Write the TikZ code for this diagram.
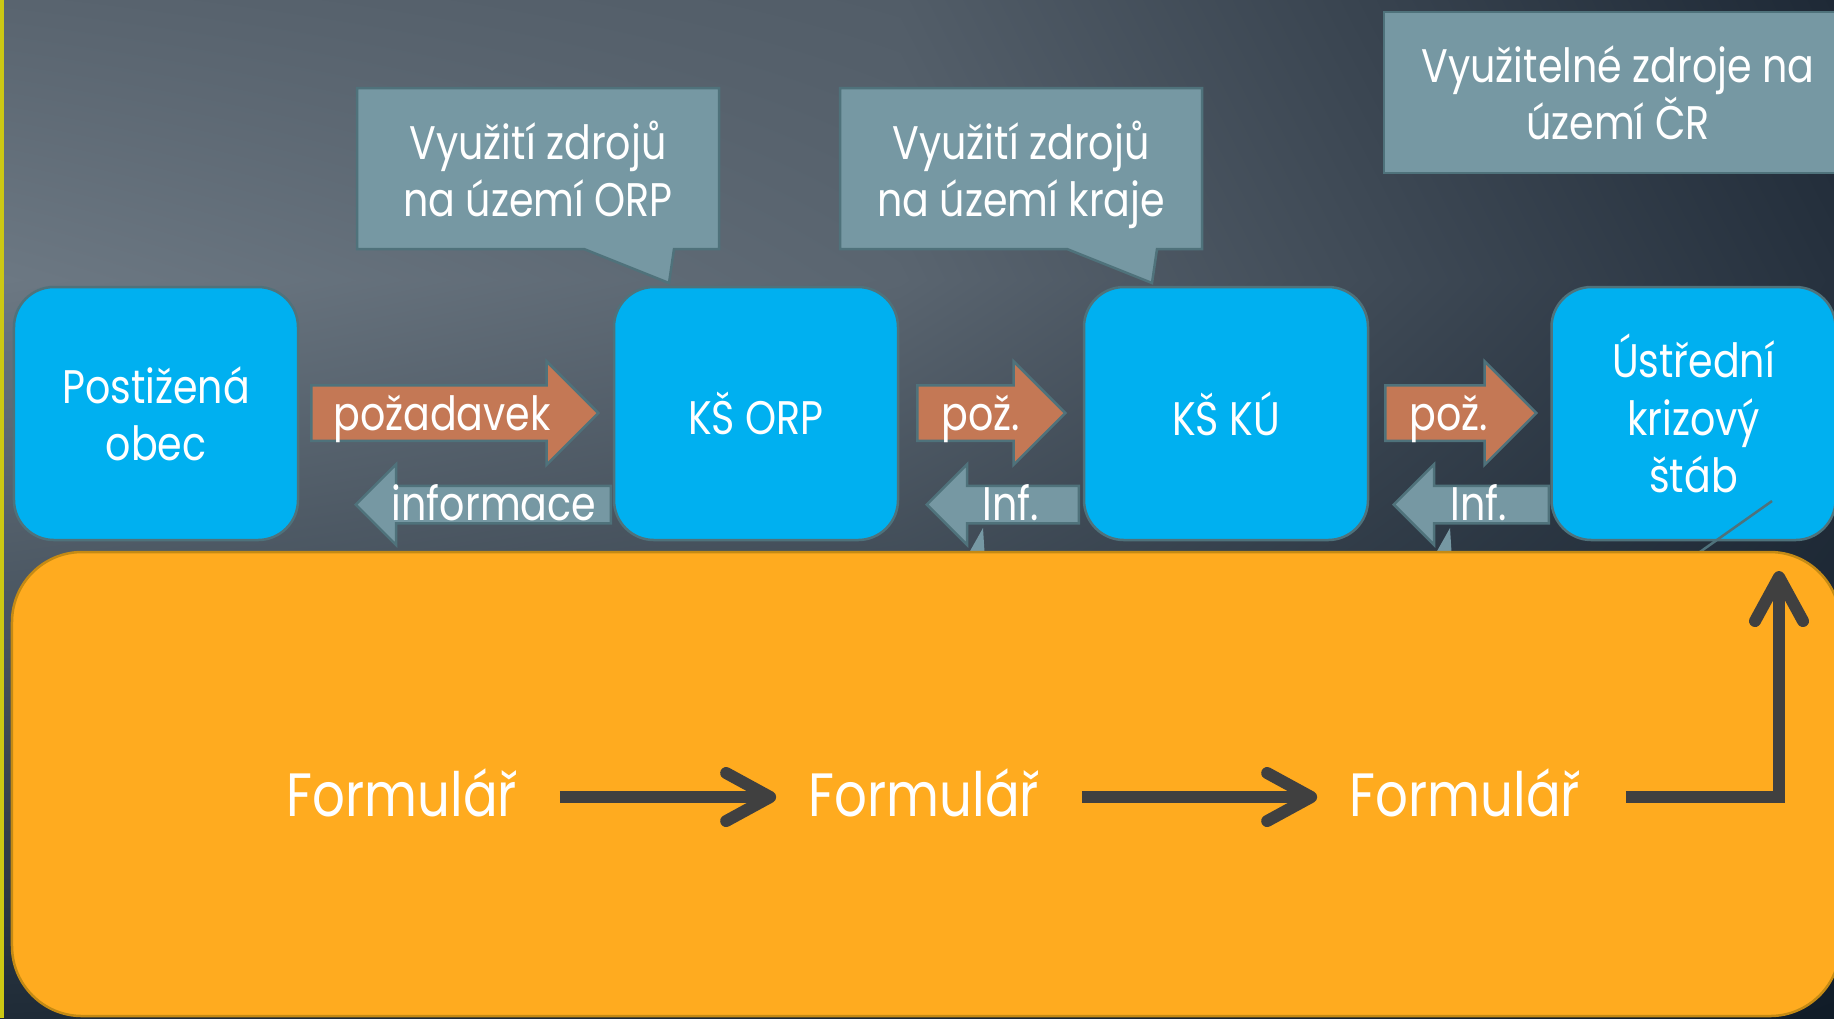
\documentclass[tikz,border=0pt]{standalone}
\usepackage{fontspec}
\setmainfont{Poppins}[FakeStretch=0.84]
\usetikzlibrary{positioning,shapes.arrows,shapes.callouts,arrows.meta,shadings}

\definecolor{boxblue}{HTML}{00B0F0}
\definecolor{edgeteal}{HTML}{4F727B}
\definecolor{notefill}{HTML}{7698A3}
\definecolor{reqorange}{HTML}{C47855}
\definecolor{panelorange}{HTML}{FFAB1F}
\definecolor{paneledge}{HTML}{C48A14}
\definecolor{flowgray}{HTML}{404040}
\definecolor{bgtl}{HTML}{59646F}
\definecolor{bgtc}{HTML}{525D68}
\definecolor{bgtr}{HTML}{1E2936}
\definecolor{bgml}{HTML}{6C7883}
\definecolor{bgmc}{HTML}{5A6570}
\definecolor{bgmr}{HTML}{26313E}
\definecolor{bgbl}{HTML}{1F2B37}
\definecolor{bgbc}{HTML}{1A2632}
\definecolor{bgbr}{HTML}{101C28}
\definecolor{stripe}{HTML}{CCC814}

\begin{document}
\begin{tikzpicture}[
    x=1mm, y=-1mm,
    font=\fontsize{13.4}{16.3}\selectfont,
    unit/.style={
        draw=edgeteal,
        line width=0.25mm,
        fill=boxblue,
        rounded corners=4mm,
        minimum width=28.4mm,
        minimum height=25.3mm,
        align=center,
        text=white,
        inner sep=0pt
    },
    bubble/.style={
        rectangle callout,
        draw=edgeteal,
        fill=notefill,
        line width=0.25mm,
        minimum width=36.2mm,
        minimum height=16.1mm,
        align=center,
        text=white,
        text depth=0pt,
        callout pointer width=9mm
    },
    req/.style={
        single arrow,
        draw=edgeteal,
        fill=reqorange,
        line width=0.25mm,
        text height=5.3mm,
        text depth=0pt,
        minimum width=10.1mm,
        single arrow head extend=2.4mm,
        inner sep=0pt,
        anchor=tail
    },
    inf/.style={
        single arrow,
        shape border rotate=180,
        draw=edgeteal,
        fill=notefill,
        line width=0.25mm,
        text height=3.5mm,
        text depth=0pt,
        minimum width=7.8mm,
        single arrow head extend=2.15mm,
        inner sep=0pt,
        anchor=tail
    },
    lbl/.style={text=white, anchor=base, inner sep=0pt},
    form/.style={
        text=white,
        font=\fontsize{17.4}{20}\selectfont,
        inner sep=0pt,
        text height=4.7mm,
        text depth=0.9mm
    },
    flow/.style={
        -{Straight Barb[round,length=4.4mm,width=4.8mm]},
        draw=flowgray,
        line width=1.2mm
    }
]

\useasboundingbox (0,0) rectangle (183.4,101.8);
\clip (0,0) rectangle (183.4,101.8);

% background
\shade[upper left=bgtl, upper right=bgtc, lower left=bgml, lower right=bgmc]
    (0,0) rectangle (90,28);
\shade[upper left=bgtc, upper right=bgtr, lower left=bgmc, lower right=bgmr]
    (90,0) rectangle (183.4,28);
\shade[upper left=bgml, upper right=bgmc, lower left=bgbl, lower right=bgbc]
    (0,28) rectangle (90,101.8);
\shade[upper left=bgmc, upper right=bgmr, lower left=bgbc, lower right=bgbr]
    (90,28) rectangle (183.4,101.8);
\fill[stripe] (0,0) rectangle (0.45,101.8);

% resource notes
\node[bubble, callout absolute pointer={(66.9,28.3)}] (orpnote) at (53.8,16.85)
    {Využití zdrojů\\na území ORP};
\node[bubble, callout absolute pointer={(115.2,28.3)}] (kunote) at (102.1,16.85)
    {Využití zdrojů\\na území kraje};
\node[bubble, rectangle, minimum width=46.8mm, text depth=-0.45mm] (crnote) at (161.8,9.25)
    {Využitelné zdroje na\\území ČR};

% request / information arrows
\node[req, minimum height=28.7mm] (req1) at (31.0,41.3) {};
\node[req, minimum height=14.8mm] (req2) at (91.6,41.3) {};
\node[req, minimum height=15.1mm] (req3) at (138.4,41.3) {};
\node[inf, minimum height=25.5mm] (inf1) at (61.2,50.45) {};
\node[inf, minimum height=15.2mm] (inf2) at (108.0,50.45) {};
\node[inf, minimum height=15.5mm] (inf3) at (155.0,50.45) {};

\node[lbl] at (44.2,43.0) {požadavek};
\node[lbl] at (98.1,43.0) {pož.};
\node[lbl] at (144.9,43.0) {pož.};
\node[lbl] at (49.4,52.0) {informace};
\node[lbl] at (101.1,52.0) {Inf.};
\node[lbl] at (147.9,52.0) {Inf.};

% first row
\node[unit] (obec) at (15.6,41.35) {Postižená\\obec};
\node[unit] (orp) at (75.6,41.35) {KŠ ORP};
\node[unit] (ku) at (122.6,41.35) {KŠ KÚ};
\node[unit] (ustab) at (169.35,41.35) {Ústřední\\krizový\\štáb};

\draw[edgeteal, line width=0.25mm] (177.2,50.1) -- (169.7,55.4);
\fill[notefill] (98.3,52.8) -- (96.5,56) -- (98.5,56) -- cycle;
\fill[notefill] (145.0,52.8) -- (143.2,56) -- (145.2,56) -- cycle;

% form panel
\node[draw=paneledge, line width=0.25mm, fill=panelorange, rounded corners=7mm,
    minimum width=182.8mm, minimum height=46.4mm] (panel) at (92.6,78.4) {};

\node[form] (f1) at (40.2,79.7) {Formulář};
\node[form] (f2) at (92.4,79.7) {Formulář};
\node[form] (f3) at (146.5,79.7) {Formulář};
\coordinate (top) at (177.9,57.1);

\draw[flow, shorten <=4.2mm, shorten >=3.2mm] (f1) -- (f2);
\draw[flow, shorten <=4.2mm, shorten >=3.2mm] (f2) -- (f3);
\draw[flow, shorten <=4.5mm] (f3) -| (top);

\end{tikzpicture}
\end{document}
